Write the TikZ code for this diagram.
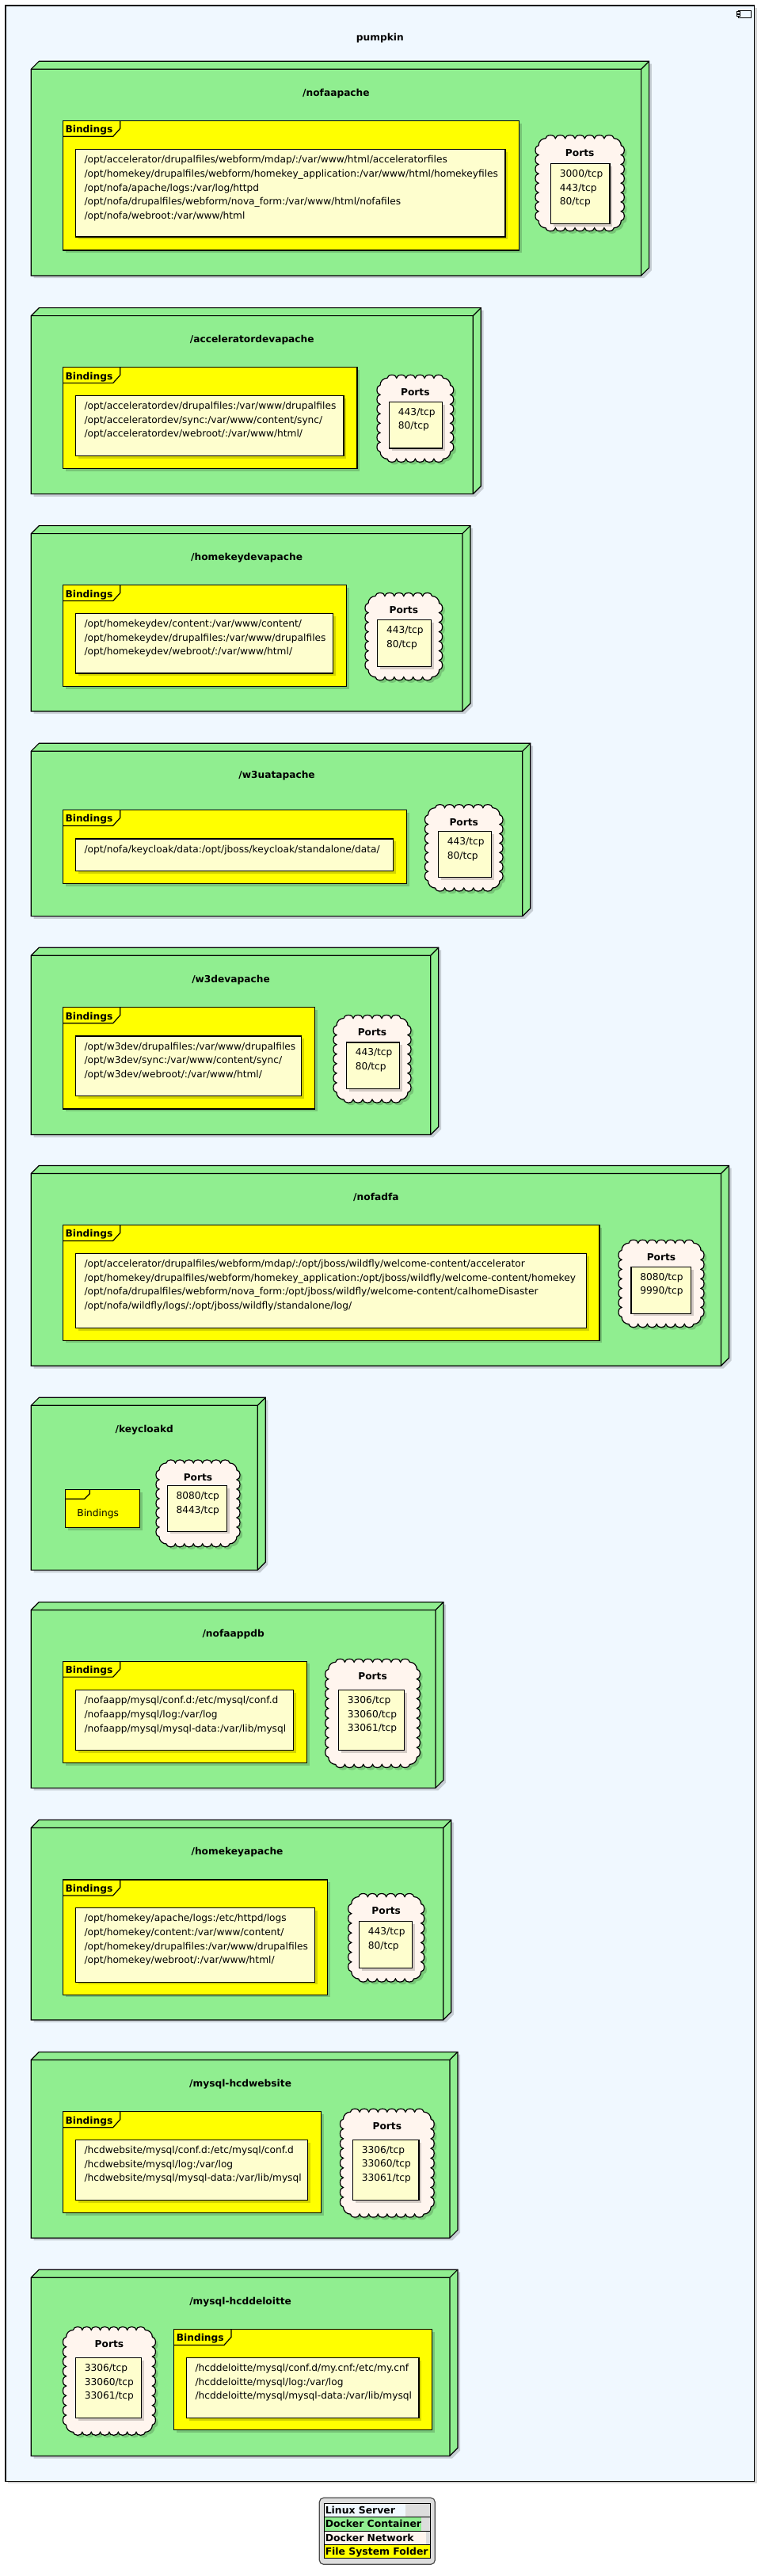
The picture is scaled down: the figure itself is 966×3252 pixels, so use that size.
\documentclass[tikz,border=0pt]{standalone}
\usepackage{fontspec}
\setmainfont{DejaVu Sans}
\usetikzlibrary{shadows}
\definecolor{server}{RGB}{240,248,255}
\definecolor{container}{RGB}{144,238,144}
\definecolor{network}{RGB}{255,245,238}
\definecolor{folder}{RGB}{255,255,0}
\definecolor{notefill}{RGB}{254,254,206}
\definecolor{legendbg}{RGB}{221,221,221}

\tikzset{
  box/.style={draw=black, line width=0.9pt},
  shade/.style={drop shadow={shadow xshift=2.4pt, shadow yshift=-2.4pt, opacity=0.17, fill=black}},
  txt/.style={inner sep=0pt, anchor=north west, align=left, font=\fontsize{9.15}{13.2}\selectfont},
  head/.style={inner sep=0pt, anchor=base, font=\fontsize{9.15}{13.2}\selectfont\bfseries},
  key/.style={inner sep=0pt, anchor=base west, font=\fontsize{9.3}{13.2}\selectfont\bfseries}
}

\newcommand{\dockernode}[6]{%
  \draw[box, fill=container, shade] (#2,#3) -- (#2+10,#3-10) -- (#4+10,#3-10) -- (#4+10,#5-10) -- (#4,#5) -- (#2,#5) -- cycle;
  \draw[box] (#2,#3) -- (#4,#3) -- (#4+10,#3-10) (#4,#3) -- (#4,#5);
  \node[head] (#1) at ({(#2+#4)/2},#3+34) {#6};
}
\newcommand{\bindings}[5]{%
  \draw[box, fill=folder, shade] (#2,#3) rectangle (#4,#5);
  \draw[box] (#2,#3+20) -- (#2+63.4,#3+20) -- (#2+72.4,#3+10) -- (#2+72.4,#3);
  \node[head, anchor=base west] (#1) at (#2+3,#3+15.4) {Bindings};
}
\newcommand{\listbox}[6]{%
  \draw[box, fill=notefill, shade] (#2,#3) rectangle (#4,#5);
  \node[txt] (#1) at (#2+11,#3+7.7) {#6};
}
\newcommand{\portcloud}[5]{%
  \pgfmathsetmacro{\cw}{#4-#2-8-18}\pgfmathsetmacro{\ch}{#5-#3-8-18}
  \pgfmathtruncatemacro{\nx}{max(1,round(\cw/12))}\pgfmathtruncatemacro{\ny}{max(1,round(\ch/12))}
  \pgfmathsetmacro{\bx}{\cw/\nx/2}\pgfmathsetmacro{\by}{\ch/\ny/2}
  \draw[box, fill=network, shade] (#2+13,#3+4)
    \foreach \i in {1,...,\nx} {arc[start angle=180, end angle=360, x radius=\bx, y radius=4]}
    arc[start angle=270, end angle=360, radius=9]
    \foreach \i in {1,...,\ny} {arc[start angle=270, end angle=450, x radius=4, y radius=\by]}
    arc[start angle=0, end angle=90, radius=9]
    \foreach \i in {1,...,\nx} {arc[start angle=0, end angle=180, x radius=\bx, y radius=4]}
    arc[start angle=90, end angle=180, radius=9]
    \foreach \i in {1,...,\ny} {arc[start angle=90, end angle=270, x radius=4, y radius=\by]}
    arc[start angle=180, end angle=270, radius=9] -- cycle;
  \node[head] (#1) at ({(#2+#4)/2},#3+26.3) {Ports};
}

\begin{document}
\begin{tikzpicture}[x=0.75pt,y=-0.75pt]
\useasboundingbox (0,0) rectangle (966,3252);
\draw[box, fill=server, shade] (7,7) rectangle (952.7,3132.2);
\draw[line width=0.6pt, fill=server] (932.3,13.3) rectangle (948.3,22.3);
\draw[line width=0.6pt, fill=server] (930.3,14.8) rectangle (934.3,17) (930.3,18.6) rectangle (934.3,20.8);
\node[head] (pumpkin) at (479.9,51.5) {pumpkin};

\dockernode{nofaapache}{39.3}{87.3}{809.6}{348}{/nofaapache}
\bindings{nofaapache-b}{79.3}{152.3}{655.4}{316}
\listbox{nofaapache-bl}{95.3}{188.7}{638}{299}{/opt/accelerator/drupalfiles/webform/mdap/:/var/www/html/acceleratorfiles\\/opt/homekey/drupalfiles/webform/homekey\_application:/var/www/html/homekeyfiles\\/opt/nofa/apache/logs:/var/log/httpd\\/opt/nofa/drupalfiles/webform/nova\_form:/var/www/html/nofafiles\\/opt/nofa/webroot:/var/www/html}
\portcloud{nofaapache-p}{676}{170.7}{788.3}{291.7}
\listbox{nofaapache-pl}{695.7}{206.7}{770}{282.3}{3000/tcp\\443/tcp\\80/tcp}

\dockernode{acceleratordevapache}{39.3}{398.6}{597.3}{623.6}{/acceleratordevapache}
\bindings{acceleratordevapache-b}{79.3}{463.6}{450.9}{591.4}
\listbox{acceleratordevapache-bl}{95.3}{499.3}{434}{575.4}{/opt/acceleratordev/drupalfiles:/var/www/drupalfiles\\/opt/acceleratordev/sync:/var/www/content/sync/\\/opt/acceleratordev/webroot/:/var/www/html/}
\portcloud{acceleratordevapache-p}{476}{473.3}{572.7}{583.3}
\listbox{acceleratordevapache-pl}{491.7}{507.3}{558.7}{566}{443/tcp\\80/tcp}

\dockernode{homekeydevapache}{39.3}{673.6}{584}{897.9}{/homekeydevapache}
\bindings{homekeydevapache-b}{79.3}{738.6}{437.5}{866.4}
\listbox{homekeydevapache-bl}{95.3}{774.3}{420.5}{850}{/opt/homekeydev/content:/var/www/content/\\/opt/homekeydev/drupalfiles:/var/www/drupalfiles\\/opt/homekeydev/webroot/:/var/www/html/}
\portcloud{homekeydevapache-p}{461}{748.5}{558.6}{858.7}
\listbox{homekeydevapache-pl}{476.8}{782.5}{544.6}{841.4}{443/tcp\\80/tcp}

\dockernode{w3uatapache}{39.3}{948.3}{659.8}{1156.6}{/w3uatapache}
\bindings{w3uatapache-b}{79.3}{1022.4}{513.4}{1115.5}
\listbox{w3uatapache-bl}{95.3}{1059}{496.4}{1099.3}{/opt/nofa/keycloak/data:/opt/jboss/keycloak/standalone/data/}
\portcloud{w3uatapache-p}{536.5}{1015.7}{635}{1125}
\listbox{w3uatapache-pl}{553.6}{1049.7}{620.5}{1107.6}{443/tcp\\80/tcp}

\dockernode{w3devapache}{39.3}{1206.2}{543.8}{1432.4}{/w3devapache}
\bindings{w3devapache-b}{79.3}{1271.7}{397.3}{1400}
\listbox{w3devapache-bl}{95.3}{1308}{380.4}{1383.8}{/opt/w3dev/drupalfiles:/var/www/drupalfiles\\/opt/w3dev/sync:/var/www/content/sync/\\/opt/w3dev/webroot/:/var/www/html/}
\portcloud{w3devapache-p}{421}{1281.5}{519}{1392}
\listbox{w3devapache-pl}{437.5}{1315.9}{504.5}{1374.5}{443/tcp\\80/tcp}

\dockernode{nofadfa}{39.3}{1481.4}{910.5}{1724.3}{/nofadfa}
\bindings{nofadfa-b}{79.3}{1546.4}{757}{1692.1}
\listbox{nofadfa-bl}{95.3}{1582.5}{740.4}{1676.4}{/opt/accelerator/drupalfiles/webform/mdap/:/opt/jboss/wildfly/welcome-content/accelerator\\/opt/homekey/drupalfiles/webform/homekey\_application:/opt/jboss/wildfly/welcome-content/homekey\\/opt/nofa/drupalfiles/webform/nova\_form:/opt/jboss/wildfly/welcome-content/calhomeDisaster\\/opt/nofa/wildfly/logs/:/opt/jboss/wildfly/standalone/log/}
\portcloud{nofadfa-p}{781}{1565.3}{889}{1675.5}
\listbox{nofadfa-pl}{797}{1599.3}{872.3}{1658.2}{8080/tcp\\9990/tcp}

\dockernode{keycloakd}{39.3}{1774.3}{325.2}{1982.1}{/keycloakd}
\draw[box, fill=folder, shade] (82.3,1880.3) rectangle (176.3,1928.3);
\draw[box] (82.3,1892.3) -- (106.7,1892.3) -- (113.3,1885.7) -- (113.3,1880.3);
\node[head, font=\fontsize{9.15}{13.2}\selectfont] (keycloakd-b) at (123.7,1914.5) {Bindings};
\portcloud{keycloakd-p}{197}{1842.9}{303}{1952.9}
\listbox{keycloakd-pl}{211.3}{1875.4}{286.4}{1933.2}{8080/tcp\\8443/tcp}

\dockernode{nofaappdb}{39.3}{2032.5}{550}{2257.1}{/nofaappdb}
\bindings{nofaappdb-b}{79.3}{2097.1}{387.5}{2225.4}
\listbox{nofaappdb-bl}{95.3}{2133.6}{370.5}{2209.3}{/nofaapp/mysql/conf.d:/etc/mysql/conf.d\\/nofaapp/mysql/log:/var/log\\/nofaapp/mysql/mysql-data:/var/lib/mysql}
\portcloud{nofaappdb-p}{410.7}{2094.3}{530.4}{2231.4}
\listbox{nofaappdb-pl}{427.7}{2133.6}{510.3}{2209.3}{3306/tcp\\33060/tcp\\33061/tcp}

\dockernode{homekeyapache}{39.3}{2307.5}{559.8}{2550}{/homekeyapache}
\bindings{homekeyapache-b}{79.3}{2372.9}{413.4}{2518.2}
\listbox{homekeyapache-bl}{95.3}{2408.6}{397.3}{2502.1}{/opt/homekey/apache/logs:/etc/httpd/logs\\/opt/homekey/content:/var/www/content/\\/opt/homekey/drupalfiles:/var/www/drupalfiles\\/opt/homekey/webroot/:/var/www/html/}
\portcloud{homekeyapache-p}{439.7}{2390.5}{535.7}{2502}
\listbox{homekeyapache-pl}{453.6}{2425.4}{520.5}{2484.3}{443/tcp\\80/tcp}

\dockernode{mysql-hcdwebsite}{39.3}{2600.4}{567.9}{2825.2}{/mysql-hcdwebsite}
\bindings{mysql-hcdwebsite-b}{79.3}{2665.7}{405.4}{2793.5}
\listbox{mysql-hcdwebsite-bl}{95.3}{2701.3}{388.4}{2777.4}{/hcdwebsite/mysql/conf.d:/etc/mysql/conf.d\\/hcdwebsite/mysql/log:/var/log\\/hcdwebsite/mysql/mysql-data:/var/lib/mysql}
\portcloud{mysql-hcdwebsite-p}{429.5}{2662.2}{548.2}{2799.1}
\listbox{mysql-hcdwebsite-pl}{445.5}{2701.3}{529}{2777.4}{3306/tcp\\33060/tcp\\33061/tcp}

\dockernode{mysql-hcddeloitte}{39.3}{2875.2}{567.9}{3100.4}{/mysql-hcddeloitte}
\portcloud{mysql-hcddeloitte-p}{79.5}{2937.4}{196.4}{3074.3}
\listbox{mysql-hcddeloitte-pl}{95.5}{2976.5}{178.6}{3052.6}{3306/tcp\\33060/tcp\\33061/tcp}
\bindings{mysql-hcddeloitte-b}{219.6}{2940.4}{545.5}{3067.8}
\listbox{mysql-hcddeloitte-bl}{235.3}{2976.5}{529}{3052.6}{/hcddeloitte/mysql/conf.d/my.cnf:/etc/my.cnf\\/hcddeloitte/mysql/log:/var/log\\/hcddeloitte/mysql/mysql-data:/var/lib/mysql}

\draw[draw=black!70, line width=0.9pt, fill=legendbg, rounded corners=4pt] (403.3,3153.3) rectangle (549.3,3237.3);
\fill[server] (409.7,3160.7) rectangle (511.7,3177.3);
\fill[container] (409.7,3177.3) rectangle (532.3,3195);
\fill[network] (409.7,3195) rectangle (537.7,3212.3);
\fill[folder] (409.7,3212.3) rectangle (543.3,3229.3);
\draw[line width=0.75pt] (409.7,3160.7) rectangle (543.3,3229.3) (409.7,3177.3) -- (543.3,3177.3) (409.7,3195) -- (543.3,3195) (409.7,3212.3) -- (543.3,3212.3);
\node[key] (lserver) at (410.5,3173.6) {Linux Server};
\node[key] (lcontainer) at (410.5,3190.8) {Docker Container};
\node[key] (lnetwork) at (410.5,3208.2) {Docker Network};
\node[key] (lfolder) at (410.5,3225.3) {File System Folder};
\end{tikzpicture}
\end{document}
